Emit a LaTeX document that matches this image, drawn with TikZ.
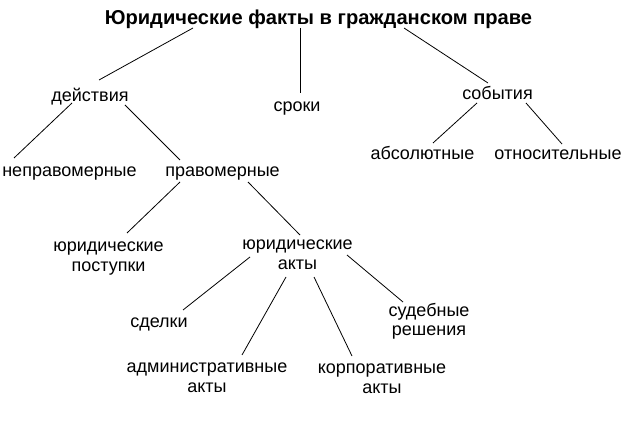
\documentclass[tikz,border=0pt]{standalone}
\usepackage{fontspec}
\setmainfont{Liberation Sans}
\usetikzlibrary{positioning}

\begin{document}
\begin{tikzpicture}[x=1pt, y=-1pt,
		lbl/.style={anchor=base, inner sep=0pt, align=center, font=\fontsize{18}{20}\selectfont},
		head/.style={anchor=base, inner sep=0pt, font=\fontsize{20.1}{22}\selectfont\bfseries},
		link/.style={draw, line width=0.8pt}]
		\useasboundingbox (0,0) rectangle (640,438);

		% base of a two-line node is its second line
		\node [head] (T) at (318.5,25) {Юридические факты в гражданском праве};
		\node [lbl] (act) at (90,102) {действия};
		\node [lbl] (term) at (297,112) {сроки};
		\node [lbl] (ev) at (497.5,100) {события};
		\node [lbl] (unlaw) at (69.5,177) {неправомерные};
		\node [lbl] (law) at (222.5,177) {правомерные};
		\node [lbl] (abs) at (422.5,160) {абсолютные};
		\node [lbl] (rel) at (558,160) {относительные};
		\node [lbl] (deed) at (108.5,272) {юридические\\поступки};
		\node [lbl] (acts) at (297.5,270) {юридические\\акты};
		\node [lbl] (deal) at (159,327) {сделки};
		\node [lbl, font=\fontsize{18}{18.5}\selectfont] (court) at (429,335.5) {судебные\\решения};
		\node [lbl] (adm) at (207,392) {административные\\акты};
		\node [lbl] (corp) at (382,393) {корпоративные\\акты};

		\path[link] ([shift={(-125.5,3)}]T.base) -- ([shift={(9,-22)}]act.base);
		\path[link] ([shift={(-17.8,3)}]T.base) -- ([shift={(3.7,-19)}]term.base);
		\path[link] ([shift={(85.5,3)}]T.base) -- ([shift={(-9.5,-17)}]ev.base);
		\path[link] ([shift={(-18,1)}]act.base) -- ([shift={(-55.5,-19)}]unlaw.base);
		\path[link] ([shift={(35,3)}]act.base) -- ([shift={(-42.5,-17)}]law.base);
		\path[link] ([shift={(-20.5,3)}]ev.base) -- ([shift={(10.5,-17)}]abs.base);
		\path[link] ([shift={(28.5,3)}]ev.base) -- ([shift={(4,-16)}]rel.base);
		\path[link] ([shift={(-42.5,5)}]law.base) -- ([shift={(18.5,-39)}]deed.base);
		\path[link] ([shift={(25.5,5)}]law.base) -- ([shift={(2.5,-35)}]acts.base);
		\path[link] ([shift={(-47.5,-13)}]acts.base) -- ([shift={(24,-17)}]deal.base);
		\path[link] ([shift={(-11.5,7)}]acts.base) -- ([shift={(35,-37)}]adm.base);
		\path[link] ([shift={(16.5,7)}]acts.base) -- ([shift={(-30,-37)}]corp.base);
		\path[link] ([shift={(49.5,-15)}]acts.base) -- ([shift={(-26,-33.5)}]court.base);
	\end{tikzpicture}
\end{document}
